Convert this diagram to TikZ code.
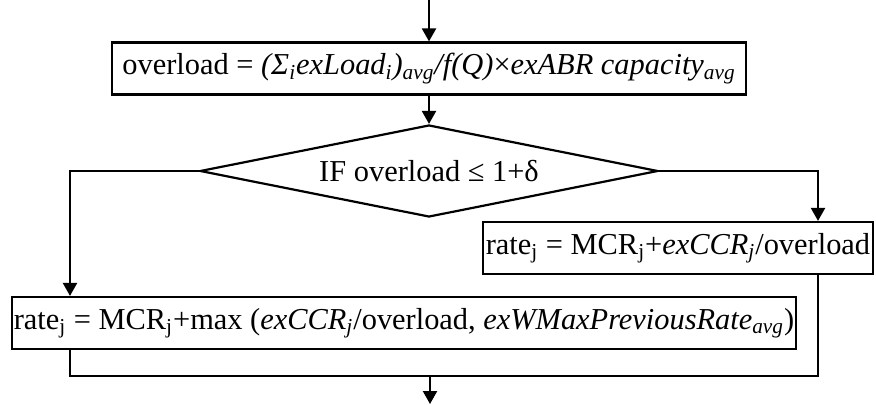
\documentclass[tikz,border=0pt]{standalone}
\usepackage{fontspec}
\setmainfont{Liberation Serif}
\usetikzlibrary{shapes.geometric,arrows.meta}

\begin{document}
\begin{tikzpicture}[x=0.5pt,y=-0.5pt,
  line width=1.1pt,
  font=\fontsize{15.2}{17}\selectfont,
  box/.style={draw,rectangle,inner sep=0pt,minimum height=26pt},
  decision/.style={draw,diamond,aspect=5,inner sep=0pt,minimum width=229pt,minimum height=46pt},
  arr/.style={-{Triangle[width=7pt,length=6.5pt]}}]
\useasboundingbox (0,0) rectangle (876,404);

% process and decision nodes
\node[box,minimum width=317pt] (load) at (429,68.5)
  {overload = \textit{(Σ\textsubscript{i}exLoad\textsubscript{i})\textsubscript{avg}/f(Q)}×\textit{exABR capacity\textsubscript{avg}}};
\node[decision] (cond) at (429,171) {IF overload ≤ 1+δ};
\node[box,minimum width=195pt] (rsimple) at (678,248)
  {rate\textsubscript{j} = MCR\textsubscript{j}+\textit{exCCR\textsubscript{j}}/overload};
\node[box,minimum width=392pt] (rmax) at (404,323)
  {rate\textsubscript{j} = MCR\textsubscript{j}+max (\textit{exCCR\textsubscript{j}}/overload, \textit{exWMaxPreviousRate\textsubscript{avg}})};

% routing points
\coordinate (in) at (429,0);
\coordinate (lj) at (70,376);
\coordinate (rj) at (818,376);
\coordinate (out) at (430,404);

% connectors
\draw[arr] (in) -- (load.north);
\draw[arr] (load.south) -- (cond.north);
\draw[arr] (cond.west) -| (rmax.north -| lj);
\draw[arr] (cond.east) -| (rsimple.north -| rj);
\draw (rmax.south -| lj) -- (lj) -- (rj) -- (rsimple.south -| rj);
\draw[arr] (lj -| out) -- (out);
\end{tikzpicture}
\end{document}
